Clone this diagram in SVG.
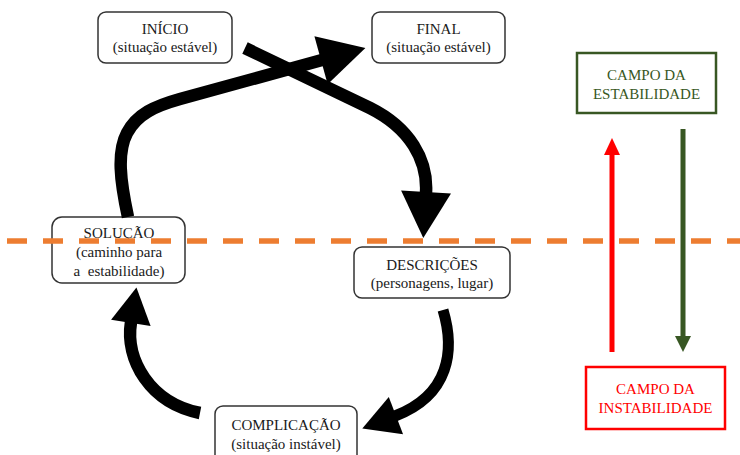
<svg xmlns="http://www.w3.org/2000/svg" width="740" height="455" viewBox="0 0 740 455">
<style>
.box{fill:#fff;stroke:#333;stroke-width:1.5}
.t{font-family:"Liberation Serif","Times New Roman",serif;font-size:15px;fill:#1a1a1a;text-anchor:middle}
.arc{fill:none;stroke:#000;stroke-width:12.5}
</style>
<defs>
<marker id="big" markerUnits="userSpaceOnUse" markerWidth="47" markerHeight="50" refX="1" refY="25" orient="auto" overflow="visible"><path d="M0,0 L46,25 L0,50 z" fill="#000"/></marker>
<marker id="small" markerUnits="userSpaceOnUse" markerWidth="37" markerHeight="40" refX="1" refY="20" orient="auto" overflow="visible"><path d="M0,0 L36,20 L0,40 z" fill="#000"/></marker>
<marker id="redHead" markerUnits="userSpaceOnUse" markerWidth="18" markerHeight="16" refX="1" refY="8" orient="auto" overflow="visible"><path d="M0,0 L17,8 L0,16 z" fill="#ff0000"/></marker>
<marker id="greenHead" markerUnits="userSpaceOnUse" markerWidth="16" markerHeight="16" refX="1" refY="8" orient="auto" overflow="visible"><path d="M0,0 L16,8 L0,16 z" fill="#385723"/></marker>
</defs>
<rect width="740" height="455" fill="#fff"/>

<g id="inicio">
<rect class="box" x="98" y="12" width="134" height="51" rx="8"/>
<text class="t" x="165" y="34">INÍCIO</text>
<text class="t" x="165" y="52">(situação estável)</text>
</g>
<g id="final">
<rect class="box" x="372" y="12" width="133" height="51" rx="8"/>
<text class="t" x="438.5" y="34">FINAL</text>
<text class="t" x="438.5" y="52">(situação estável)</text>
</g>
<g id="solucao">
<rect class="box" x="52" y="217" width="133" height="66" rx="10"/>
<text class="t" x="119" y="238">SOLUÇÃO</text>
<text class="t" x="119" y="257">(caminho para</text>
<text class="t" x="119" y="276" xml:space="preserve">a  estabilidade)</text>
</g>
<g id="descricoes">
<rect class="box" x="354" y="247" width="156" height="51" rx="8"/>
<text class="t" x="432" y="270">DESCRIÇÕES</text>
<text class="t" x="432" y="288">(personagens, lugar)</text>
</g>
<g id="complicacao">
<rect class="box" x="215" y="406" width="142" height="58" rx="8"/>
<text class="t" x="286" y="430">COMPLICAÇÃO</text>
<text class="t" x="286" y="449">(situação instável)</text>
</g>
<g id="campo-estabilidade">
<rect x="577" y="53" width="139" height="60" fill="#fff" stroke="#385723" stroke-width="2.5"/>
<text class="t" x="646.5" y="80" style="fill:#385723">CAMPO DA</text>
<text class="t" x="646.5" y="99" style="fill:#385723">ESTABILIDADE</text>
</g>
<g id="campo-instabilidade">
<rect x="586" y="367" width="139" height="62" fill="#fff" stroke="#ff0000" stroke-width="2.5"/>
<text class="t" x="655.5" y="394" style="fill:#ff0000">CAMPO DA</text>
<text class="t" x="655.5" y="413" style="fill:#ff0000">INSTABILIDADE</text>
</g>

<line id="divisor" x1="7" y1="241" x2="740" y2="241" stroke="#ED7D31" stroke-width="5.5" stroke-dasharray="20 16"/>

<g id="connectors">
<path class="arc" d="M128,217 C120,180 117,152 127,133 C137,114 155,106 180,99 L322,60" marker-end="url(#big)"/>
<path class="arc" d="M245,48 L370,108 C410,128 428,160 426,193" marker-end="url(#big)"/>
<path class="arc" style="stroke-width:11" d="M443,310 C455,350 450,395 395,416" marker-end="url(#small)"/>
<path class="arc" d="M200,413 C150,403 125,360 131,322" marker-end="url(#small)"/>
<line x1="612" y1="352" x2="612" y2="154" stroke="#ff0000" stroke-width="5" marker-end="url(#redHead)"/>
<line x1="683" y1="129" x2="683" y2="337" stroke="#385723" stroke-width="5" marker-end="url(#greenHead)"/>
</g>
</svg>
